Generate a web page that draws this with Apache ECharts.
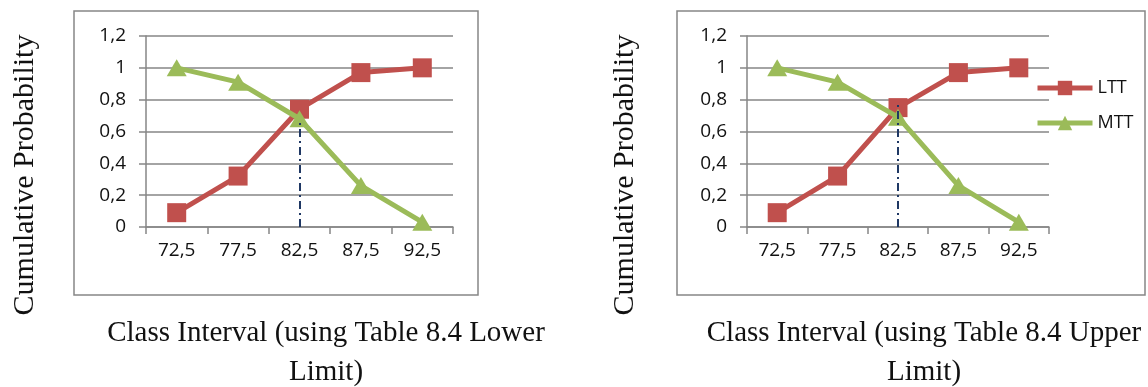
<!DOCTYPE html>
<html>
<head>
<meta charset="utf-8">
<script src="https://cdn.jsdelivr.net/npm/echarts@6/dist/echarts.min.js"></script>
<style>
html,body{margin:0;padding:0;background:#fff;}
#c{width:1148px;height:387px;}
</style>
</head>
<body>
<div id="c"></div>
<script>
// ---- data ----
const categories = ['72,5', '77,5', '82,5', '87,5', '92,5'];
const lttLower = [0.09, 0.32, 0.74, 0.97, 1.0];
const mttLower = [1.0, 0.91, 0.68, 0.26, 0.03];
const lttUpper = [0.09, 0.32, 0.75, 0.97, 1.0];
const mttUpper = [1.0, 0.91, 0.69, 0.26, 0.03];
const crossCategory = '82,5';
const crossLower = [0, 0.66];
const crossUpper = [0, 0.78];
const yTicks = [0, 0.2, 0.4, 0.6, 0.8, 1.0, 1.2];
const yTitle = 'Cumulative Probability';
const xTitleLower = 'Class Interval (using Table 8.4 Lower\nLimit)';
const xTitleUpper = 'Class Interval (using Table 8.4 Upper\nLimit)';
const seriesNames = ['LTT', 'MTT'];

// ---- styles ----
const RED = '#C0504D', GREEN = '#9BBB59', GRAY = '#868686', NAVY = '#1F3864';
const tickFont = { fontFamily: 'Open Sans', fontSize: 19, color: '#111' };
const serif = 'Liberation Serif';

function yAxis(gi) {
  return {
    type: 'value', gridIndex: gi, min: yTicks[0], max: yTicks[yTicks.length - 1], interval: 0.2,
    axisLine: { show: true, lineStyle: { color: GRAY, width: 1.5 } },
    axisTick: { show: true, length: 7, lineStyle: { color: GRAY, width: 1.5 } },
    splitLine: { show: true, lineStyle: { color: GRAY, width: 1.5 } },
    axisLabel: Object.assign({ margin: 20, formatter: v => String(Math.round(v * 10) / 10).replace('.', ',') }, tickFont)
  };
}
function xAxis(gi) {
  return {
    type: 'category', gridIndex: gi, data: categories, boundaryGap: true,
    axisLine: { show: true, lineStyle: { color: GRAY, width: 1.5 } },
    axisTick: { show: true, length: 7, lineStyle: { color: GRAY, width: 1.5 } },
    splitLine: { show: false },
    axisLabel: Object.assign({ margin: 14, interval: 0 }, tickFont)
  };
}
function cross(range) {
  return {
    silent: true, symbol: 'none', label: { show: false },
    lineStyle: { color: NAVY, width: 2, type: [8, 4, 2, 4] },
    data: [[{ coord: [crossCategory, range[0]] }, { coord: [crossCategory, range[1]] }]]
  };
}
function lineSeries(name, data, gi, isLtt, z) {
  return {
    name: name, type: 'line', xAxisIndex: gi, yAxisIndex: gi, data: data,
    symbol: isLtt ? 'rect' : 'triangle', symbolSize: isLtt ? 19 : [20, 17],
    lineStyle: { color: isLtt ? RED : GREEN, width: 5 },
    itemStyle: { color: isLtt ? RED : GREEN },
    z: z, animation: false
  };
}

const chart = echarts.init(document.getElementById('c'), null, { renderer: 'canvas' });
chart.setOption({
  animation: false,
  backgroundColor: '#fff',
  grid: [
    { left: 146, top: 36, width: 307, height: 191 },
    { left: 747, top: 36, width: 302, height: 191 }
  ],
  xAxis: [xAxis(0), xAxis(1)],
  yAxis: [yAxis(0), yAxis(1)],
  legend: {
    show: true, orient: 'vertical', left: 1035, top: 79, padding: 0,
    itemWidth: 55, itemHeight: 18, itemGap: 17,
    data: seriesNames,
    lineStyle: { width: 5 },
    textStyle: { fontFamily: 'Open Sans', fontSize: 18, color: '#111' }
  },
  series: [
    lineSeries(seriesNames[0], lttLower, 0, true, 3),
    lineSeries(seriesNames[1], mttLower, 0, false, 4),
    lineSeries(seriesNames[0], lttUpper, 1, true, 3),
    lineSeries(seriesNames[1], mttUpper, 1, false, 4),
    { type: 'line', xAxisIndex: 0, yAxisIndex: 0, data: [], z: 2, markLine: cross(crossLower) },
    { type: 'line', xAxisIndex: 1, yAxisIndex: 1, data: [], z: 6, markLine: cross(crossUpper) }
  ],
  graphic: [
    { type: 'rect', shape: { x: 74, y: 11, width: 404, height: 284 }, style: { fill: 'none', stroke: GRAY, lineWidth: 1.5 }, z: -1 },
    { type: 'rect', shape: { x: 677, y: 11, width: 468, height: 284 }, style: { fill: 'none', stroke: GRAY, lineWidth: 1.5 }, z: -1 },
    { type: 'text', x: 25, y: 175, rotation: Math.PI / 2,
      style: { text: yTitle, fontFamily: serif, fontSize: 30, fill: '#111', textAlign: 'center', textVerticalAlign: 'middle' } },
    { type: 'text', x: 625, y: 175, rotation: Math.PI / 2,
      style: { text: yTitle, fontFamily: serif, fontSize: 30, fill: '#111', textAlign: 'center', textVerticalAlign: 'middle' } },
    { type: 'text', x: 326, y: 314,
      style: { text: xTitleLower, fontFamily: serif, fontSize: 29, lineHeight: 39, fill: '#111', textAlign: 'center', textVerticalAlign: 'top' } },
    { type: 'text', x: 924, y: 314,
      style: { text: xTitleUpper, fontFamily: serif, fontSize: 29, lineHeight: 39, fill: '#111', textAlign: 'center', textVerticalAlign: 'top' } }
  ]
});
</script>
</body>
</html>
